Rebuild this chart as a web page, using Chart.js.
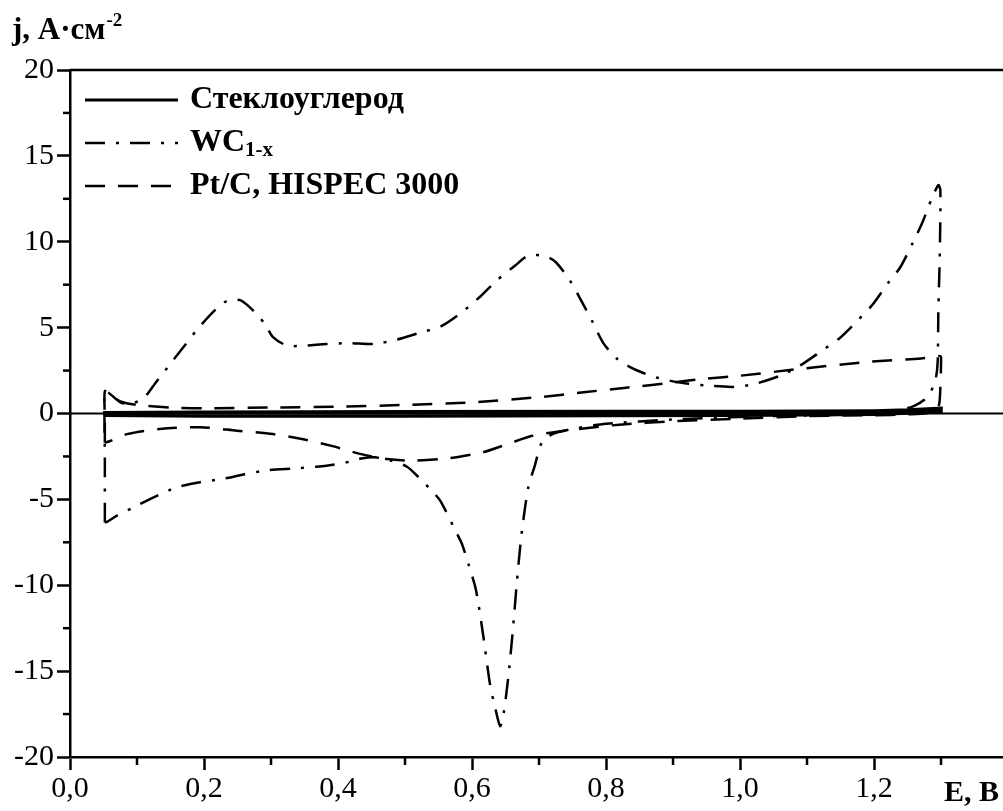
<!DOCTYPE html>
<html lang="ru">
<head>
<meta charset="UTF-8">
<title>ЦВА: Стеклоуглерод, WC1-x, Pt/C</title>
<script src="https://cdn.jsdelivr.net/npm/chart.js"></script>
<style>
  html, body { margin: 0; padding: 0; background: #fff; }
</style>
</head>
<body>
<canvas id="cv" width="1003" height="811"></canvas>
<script>
// точки кривых [E, B ; j, A/см2], обход петли по часовой стрелке
const gcCurve = [
  [0.052, -0.1], [0.052, 0.05], [0.2, 0.08], [0.5, 0.1], [0.8, 0.12], [1.0, 0.12],
  [1.2, 0.15], [1.25, 0.2], [1.3, 0.3], [1.3, 0.1], [1.2, -0.05], [1.0, -0.1],
  [0.8, -0.12], [0.5, -0.15], [0.2, -0.15], [0.052, -0.1]
];
const wcCurve = [
  [0.052, -6.35], [0.052, -2.5], [0.052, 1.3], [0.058, 1.2], [0.075, 0.65], [0.09, 0.55],
  [0.11, 0.9], [0.127, 1.75], [0.15, 2.9], [0.17, 3.9], [0.19, 4.9], [0.216, 6.0],
  [0.234, 6.55], [0.254, 6.6], [0.276, 5.9], [0.291, 5.2], [0.303, 4.45], [0.324, 3.95],
  [0.348, 3.95], [0.383, 4.05], [0.418, 4.1], [0.453, 4.05], [0.488, 4.3], [0.522, 4.7],
  [0.555, 5.1], [0.585, 5.9], [0.612, 6.8], [0.637, 7.75], [0.664, 8.6], [0.682, 9.15],
  [0.706, 9.2], [0.724, 8.85], [0.746, 7.75], [0.764, 6.5], [0.779, 5.4], [0.796, 4.1],
  [0.816, 3.2], [0.836, 2.7], [0.853, 2.4], [0.875, 2.1], [0.896, 1.9], [0.92, 1.75],
  [0.96, 1.6], [0.99, 1.55], [1.02, 1.7], [1.06, 2.2], [1.09, 2.8], [1.12, 3.6],
  [1.149, 4.4], [1.175, 5.4], [1.197, 6.3], [1.221, 7.6], [1.239, 8.5], [1.258, 9.95],
  [1.273, 11.2], [1.286, 12.5], [1.296, 13.3], [1.299, 13.0], [1.298, 9.0], [1.296, 6.0],
  [1.295, 3.0], [1.292, 2.0], [1.285, 1.3], [1.275, 0.8], [1.26, 0.45], [1.24, 0.2],
  [1.21, 0.05], [1.17, -0.05], [1.12, -0.1], [1.05, -0.15], [1.0, -0.2], [0.9, -0.35],
  [0.8, -0.6], [0.75, -0.9], [0.72, -1.2], [0.704, -1.7], [0.694, -3.0], [0.684, -4.3],
  [0.674, -7.0], [0.667, -9.8], [0.661, -12.6], [0.654, -15.4], [0.647, -17.5], [0.642, -18.2],
  [0.635, -17.2], [0.627, -15.8], [0.617, -13.0], [0.606, -10.3], [0.595, -8.8], [0.585, -7.6],
  [0.575, -6.8], [0.553, -5.1], [0.54, -4.5], [0.52, -3.7], [0.503, -3.1], [0.48, -2.75],
  [0.455, -2.55], [0.437, -2.6], [0.418, -2.8], [0.39, -3.0], [0.368, -3.1], [0.333, -3.2],
  [0.296, -3.3], [0.259, -3.55], [0.229, -3.8], [0.194, -4.0], [0.159, -4.3], [0.124, -4.9],
  [0.093, -5.5], [0.07, -5.95], [0.056, -6.3], [0.052, -6.35]
];
const ptCurve = [
  [0.052, -1.7], [0.052, -0.3], [0.052, 1.3], [0.06, 1.1], [0.075, 0.7], [0.1, 0.5],
  [0.15, 0.35], [0.2, 0.3], [0.3, 0.35], [0.4, 0.4], [0.5, 0.5], [0.6, 0.65],
  [0.7, 0.95], [0.77, 1.25], [0.83, 1.5], [0.9, 1.8], [0.94, 2.0], [1.0, 2.2],
  [1.09, 2.6], [1.19, 3.0], [1.27, 3.2], [1.298, 3.35], [1.3, 3.3], [1.299, 1.5],
  [1.297, 0.5], [1.29, 0.1], [1.25, -0.05], [1.2, -0.1], [1.1, -0.15], [1.0, -0.3],
  [0.9, -0.45], [0.82, -0.65], [0.76, -0.9], [0.72, -1.1], [0.69, -1.3], [0.655, -1.75],
  [0.617, -2.25], [0.567, -2.6], [0.512, -2.75], [0.473, -2.65], [0.433, -2.35], [0.392, -1.9],
  [0.348, -1.5], [0.303, -1.2], [0.249, -1.0], [0.194, -0.8], [0.134, -0.9], [0.085, -1.2],
  [0.06, -1.6], [0.052, -1.7]
];

const seriesNames = ['Стеклоуглерод', 'WC', 'Pt/C, HISPEC 3000'];
const seriesSubs = ['', '1-x', ''];
const xTickLabels = ['0,0', '0,2', '0,4', '0,6', '0,8', '1,0', '1,2'];
const xMinorTicks = [0.1, 0.3, 0.5, 0.7, 0.9, 1.1, 1.3];
const yMinorTicks = [-17.5, -12.5, -7.5, -2.5, 2.5, 7.5, 12.5, 17.5];

const FONT = "'Liberation Serif', 'Times New Roman', serif";

function toPoints(arr) {
  return arr.map(p => ({ x: p[0], y: p[1] }));
}

// дополнительная отрисовка: рамка сверху, нулевая линия, малые деления, подписи осей, легенда
const extras = {
  id: 'extras',
  beforeDatasetsDraw(chart) {
    const { ctx, chartArea: a, scales: { y } } = chart;
    ctx.save();
    ctx.strokeStyle = '#000';
    ctx.lineWidth = 2;
    const y0 = y.getPixelForValue(0);
    ctx.beginPath();
    ctx.moveTo(a.left, y0);
    ctx.lineTo(a.right, y0);
    ctx.stroke();
    ctx.restore();
  },
  afterDraw(chart) {
    const { ctx, chartArea: a, scales: { x, y } } = chart;
    ctx.save();
    ctx.strokeStyle = '#000';
    ctx.fillStyle = '#000';
    ctx.lineWidth = 2.5;
    ctx.beginPath();
    ctx.moveTo(a.left, a.top);
    ctx.lineTo(a.right, a.top);
    ctx.stroke();

    yMinorTicks.forEach(v => {
      const py = y.getPixelForValue(v);
      ctx.beginPath();
      ctx.moveTo(a.left - 7, py);
      ctx.lineTo(a.left, py);
      ctx.stroke();
    });
    xMinorTicks.forEach(v => {
      const px = x.getPixelForValue(v);
      ctx.beginPath();
      ctx.moveTo(px, a.bottom);
      ctx.lineTo(px, a.bottom + 8);
      ctx.stroke();
    });

    // подписи осей
    ctx.textBaseline = 'alphabetic';
    ctx.textAlign = 'left';
    ctx.font = 'bold 31px ' + FONT;
    ctx.fillText('j, A·см', 12, 39);
    const w = ctx.measureText('j, A·см').width;
    ctx.font = 'bold 19px ' + FONT;
    ctx.fillText('-2', 12 + w + 1, 26);
    ctx.font = 'bold 30px ' + FONT;
    ctx.textAlign = 'right';
    ctx.fillText('E, B', 999, 801);

    // легенда
    ctx.textAlign = 'left';
    ctx.textBaseline = 'middle';
    chart.data.datasets.forEach((ds, i) => {
      const ly = 100 + 43 * i;
      ctx.save();
      ctx.lineWidth = Math.min(ds.borderWidth, 2.8);
      ctx.setLineDash(ds.borderDash || []);
      ctx.beginPath();
      ctx.moveTo(85, ly);
      ctx.lineTo(178, ly);
      ctx.stroke();
      ctx.restore();
      ctx.font = 'bold 32px ' + FONT;
      ctx.fillText(ds.label, 190, ly);
      if (ds.labelSub) {
        const lw = ctx.measureText(ds.label).width;
        ctx.font = 'bold 21px ' + FONT;
        ctx.fillText(ds.labelSub, 190 + lw, ly + 8);
      }
    });
    ctx.restore();
  }
};

new Chart(document.getElementById('cv'), {
  type: 'scatter',
  data: {
    datasets: [
      {
        label: seriesNames[0], labelSub: seriesSubs[0],
        data: toPoints(gcCurve), showLine: true, borderColor: '#000',
        borderWidth: 3.5, borderDash: [], tension: 0, pointRadius: 0
      },
      {
        label: seriesNames[1], labelSub: seriesSubs[1],
        data: toPoints(wcCurve), showLine: true, borderColor: '#000',
        borderWidth: 2.5, borderDash: [20, 11, 3, 11], tension: 0.25, pointRadius: 0
      },
      {
        label: seriesNames[2], labelSub: seriesSubs[2],
        data: toPoints(ptCurve), showLine: true, borderColor: '#000',
        borderWidth: 2.5, borderDash: [20, 13], tension: 0.25, pointRadius: 0
      }
    ]
  },
  options: {
    responsive: false,
    animation: false,
    devicePixelRatio: 1,
    layout: { padding: { top: 70, left: 0, right: 0, bottom: 0 } },
    plugins: { legend: { display: false }, tooltip: { enabled: false } },
    scales: {
      x: {
        type: 'linear', min: 0, max: 1.3925,
        afterFit(s) { s.height = 54; },
        border: { display: true, color: '#000', width: 2.5 },
        grid: { drawOnChartArea: false, drawTicks: true, tickLength: 13, tickWidth: 2.5, tickColor: '#000' },
        ticks: {
          stepSize: 0.2, includeBounds: false, maxRotation: 0, autoSkip: false,
          color: '#000', padding: 1, font: { family: FONT, size: 30 },
          callback: (v, i) => xTickLabels[i]
        }
      },
      y: {
        min: -20, max: 20,
        afterFit(s) { s.width = 70; },
        border: { display: true, color: '#000', width: 2.5 },
        grid: { drawOnChartArea: false, drawTicks: true, tickLength: 13, tickWidth: 2.5, tickColor: '#000' },
        ticks: {
          stepSize: 5, color: '#000', padding: 3, font: { family: FONT, size: 30 },
          callback: v => String(v)
        }
      }
    }
  },
  plugins: [extras]
});
</script>
</body>
</html>
